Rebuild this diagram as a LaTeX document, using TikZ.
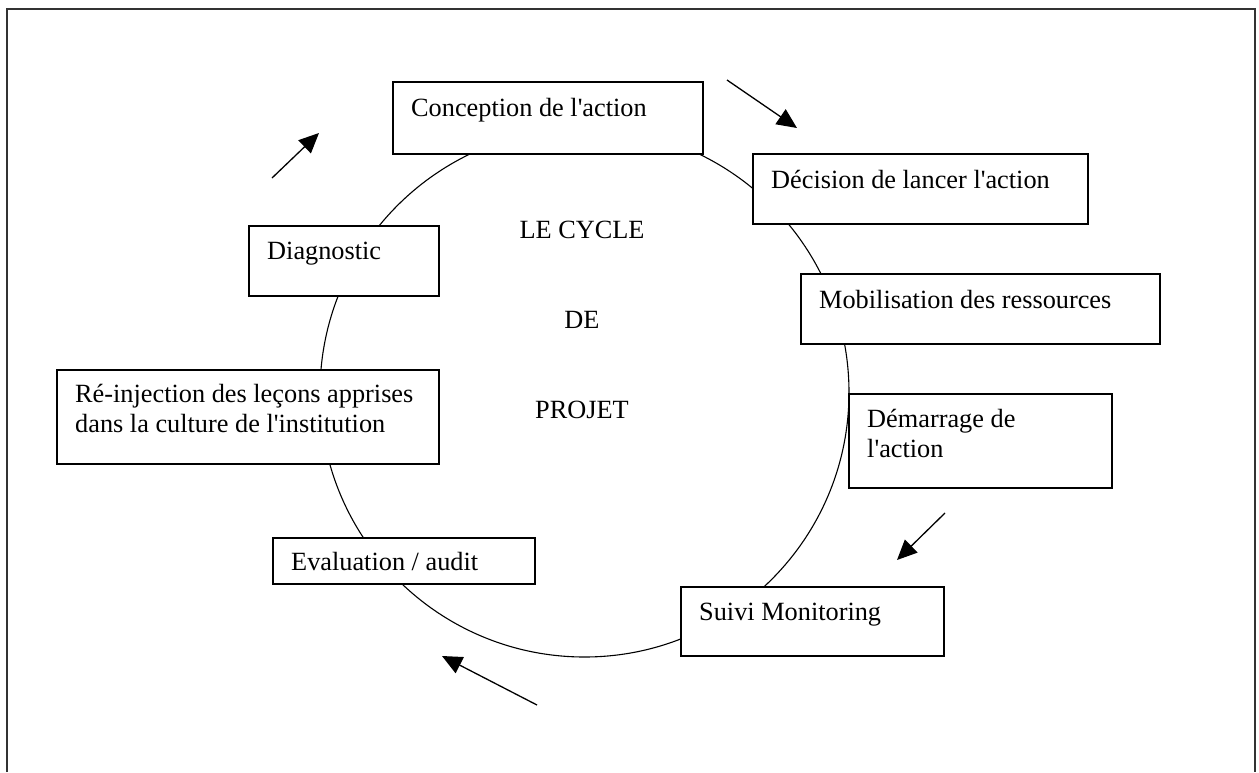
\documentclass[tikz,border=0pt]{standalone}
\usepackage{fontspec}
\setmainfont{Liberation Serif}
\usepackage{tikz}
\usetikzlibrary{arrows.meta}
\tikzstyle{stage} = [rectangle, draw, fill=white, line width=1.6pt,
    anchor=north west, inner sep=0pt]
\tikzstyle{stagetext} = [anchor=base west, inner sep=0pt, align=left]
\tikzstyle{line} = [draw, line width=1.1pt]
\tikzstyle{flow} = [draw, line width=1.3pt, -{Triangle[length=20pt,width=18pt]}]

\begin{document}
\begin{tikzpicture}[x=1pt,y=-1pt,font=\fontsize{26.3}{30}\selectfont]
      \useasboundingbox (0,0) rectangle (1259,772);
      \draw[line width=1.5pt,black!80] (7,772) -- (7,9) -- (1255,9) -- (1255,772);
      % the cycle
      \draw[line] (584.5,392.5) circle (264.5);
      % stages
      \node[stage,minimum width=310pt,minimum height=72pt] (concep) at (392,81) {};
      \node[stage,minimum width=335pt,minimum height=70pt] (decis) at (752,153) {};
      \node[stage,minimum width=359pt,minimum height=70pt] (mobil) at (800,273) {};
      \node[stage,minimum width=263pt,minimum height=94pt] (demar) at (848,393) {};
      \node[stage,minimum width=263pt,minimum height=69pt] (suivi) at (680,586) {};
      \node[stage,minimum width=262pt,minimum height=46pt] (evalu) at (272,537) {};
      \node[stage,minimum width=382pt,minimum height=94pt] (reinj) at (56,369) {};
      \node[stage,minimum width=190pt,minimum height=70pt] (diagn) at (248,225) {};
      % base of a two-line text is its last line
      \node[stagetext] (concept) at (411,116) {Conception de l\textquotesingle action};
      \node[stagetext] (decist) at (771,188) {Décision de lancer l\textquotesingle action};
      \node[stagetext] (mobilt) at (819,308) {Mobilisation des ressources};
      \node[stagetext] (demart) at (867,457) {Démarrage de\\l\textquotesingle action};
      \node[stagetext] (suivit) at (699,620) {Suivi Monitoring};
      \node[stagetext] (evalut) at (291,570) {Evaluation / audit};
      \node[stagetext] (reinjt) at (75,432) {Ré-injection des leçons apprises\\dans la culture de l\textquotesingle institution};
      \node[stagetext] (diagnt) at (267,259) {Diagnostic};
      % title
      \node[anchor=base] (title1) at (582,238) {LE CYCLE};
      \node[anchor=base] (title2) at (582,328) {DE};
      \node[anchor=base] (title3) at (582,418) {PROJET};
      % direction arrows
      \coordinate (nwfrom) at (272,178);
      \coordinate (nwto) at (319,133);
      \coordinate (nefrom) at (727,80);
      \coordinate (neto) at (797,128);
      \coordinate (sefrom) at (945,513);
      \coordinate (seto) at (897,560);
      \coordinate (swfrom) at (537,705);
      \coordinate (swto) at (442,656);
      \draw[flow] (nwfrom) -- (nwto);
      \draw[flow] (nefrom) -- (neto);
      \draw[flow] (sefrom) -- (seto);
      \draw[flow] (swfrom) -- (swto);
\end{tikzpicture}
\end{document}
